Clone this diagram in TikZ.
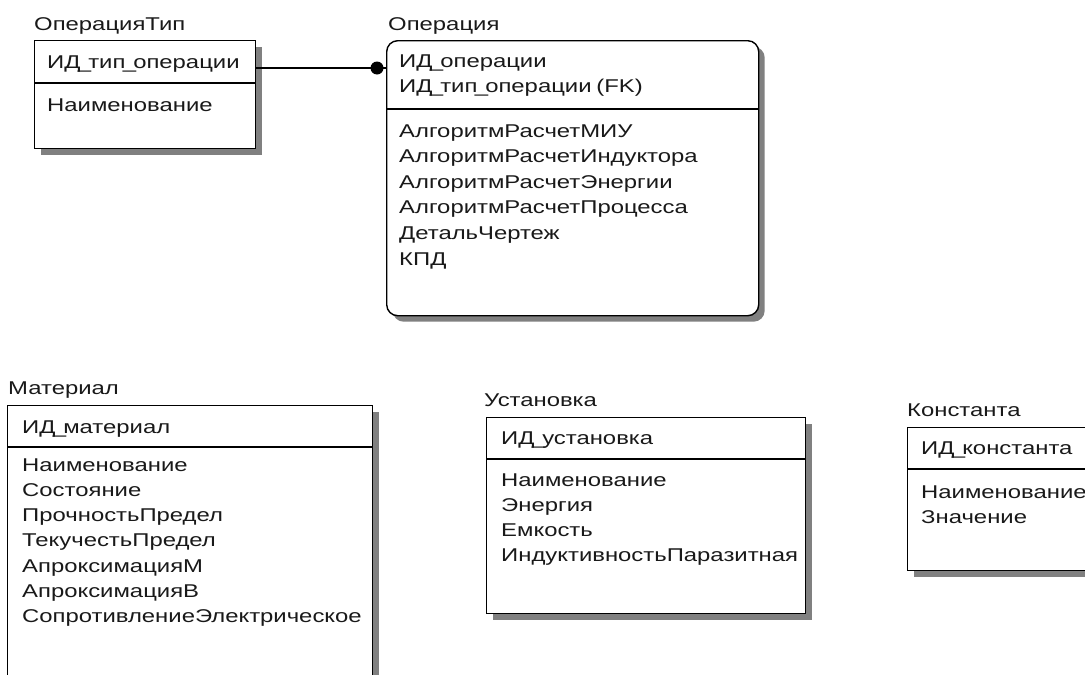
\documentclass[tikz,border=0pt]{standalone}
\usepackage{fontspec}
\setmainfont{Liberation Sans}[FakeStretch=1.29]
\usetikzlibrary{calc,shadows}
\newcommand\usc{\makebox[0.42em][c]{\_}}
\tikzset{
  ent/.style={draw=black, line width=1.4pt, fill=white, anchor=north west, inner sep=0pt,
    drop shadow={shadow xshift=6pt, shadow yshift=-6pt, fill=black!50, opacity=1}},
  txt/.style={anchor=base west, inner sep=0pt, font=\fontsize{18.5}{22}\selectfont, text=black!90},
  divider/.style={draw=black, line width=1.4pt},
  link/.style={draw=black, line width=1.4pt},
}
\begin{document}
\begin{tikzpicture}[x=1pt,y=-1pt]
\useasboundingbox (0,0) rectangle (1085,675);
\clip (0,0) rectangle (1085,675);

% ---------- ОперацияТип ----------
\node[txt] (ott) at (34,30) {ОперацияТип};
\node[ent, minimum width=221pt, minimum height=108pt] (ot) at (34,40) {};
\draw[divider] ($(ot.north west)+(0,43)$) -- ($(ot.north east)+(0,43)$);
\node[txt] (otk) at (47,68) {ИД\usc тип\usc операции};
\node[txt] (ota) at (47,111) {Наименование};

% ---------- Операция ----------
\node[txt] (opt) at (388,30) {Операция};
\node[ent, rounded corners=11pt, minimum width=372pt, minimum height=275pt] (op) at (386,40) {};
\draw[divider] ($(op.north west)+(0,69)$) -- ($(op.north east)+(0,69)$);
\node[txt] (opk1) at (399,67) {ИД\usc операции};
\node[txt] (opk2) at (399,92) {ИД\usc тип\usc операции\kern-0.1em{} (FK)};
\foreach \t [count=\i] in {АлгоритмРасчетМИУ,АлгоритмРасчетИндуктора,АлгоритмРасчетЭнергии,АлгоритмРасчетПроцесса,ДетальЧертеж,КПД}
  \node[txt] (opa\i) at (399,{137+25.6*(\i-1)}) {\t};

% ---------- связь ----------
\coordinate (dot) at ($(op.west |- otk.base)+(-9,0)$);
\draw[link] (ot.east |- otk.base) -- (op.west |- otk.base);
\fill[black] (dot) circle (6.5pt);

% ---------- Материал ----------
\node[txt] (matt) at (8,394) {Материал};
\node[ent, minimum width=365pt, minimum height=300pt] (mat) at (7,405) {};
\draw[divider] ($(mat.north west)+(0,42)$) -- ($(mat.north east)+(0,42)$);
\node[txt] (matk) at (22,433) {ИД\usc материал};
\foreach \t [count=\i] in {Наименование,Состояние,ПрочностьПредел,ТекучестьПредел,АпроксимацияM,АпроксимацияB,СопротивлениеЭлектрическое}
  \node[txt] (mata\i) at (22,{471+25.3*(\i-1)}) {\t};

% ---------- Установка ----------
\node[txt] (ust) at (484,406) {Установка};
\node[ent, minimum width=319pt, minimum height=196pt] (us) at (486,417) {};
\draw[divider] ($(us.north west)+(0,42)$) -- ($(us.north east)+(0,42)$);
\node[txt] (usk) at (501,444) {ИД\usc установка};
\foreach \t [count=\i] in {Наименование,Энергия,Емкость,ИндуктивностьПаразитная}
  \node[txt] (usa\i) at (501,{486+25.3*(\i-1)}) {\t};

% ---------- Константа ----------
\node[txt] (kot) at (907,416) {Константа};
\node[ent, minimum width=200pt, minimum height=143pt] (ko) at (907,427) {};
\draw[divider] ($(ko.north west)+(0,42)$) -- ($(ko.north east)+(0,42)$);
\node[txt] (kok) at (921,454) {ИД\usc константа};
\foreach \t [count=\i] in {Наименование,Значение}
  \node[txt] (koa\i) at (921,{498+25.5*(\i-1)}) {\t};
\end{tikzpicture}
\end{document}
